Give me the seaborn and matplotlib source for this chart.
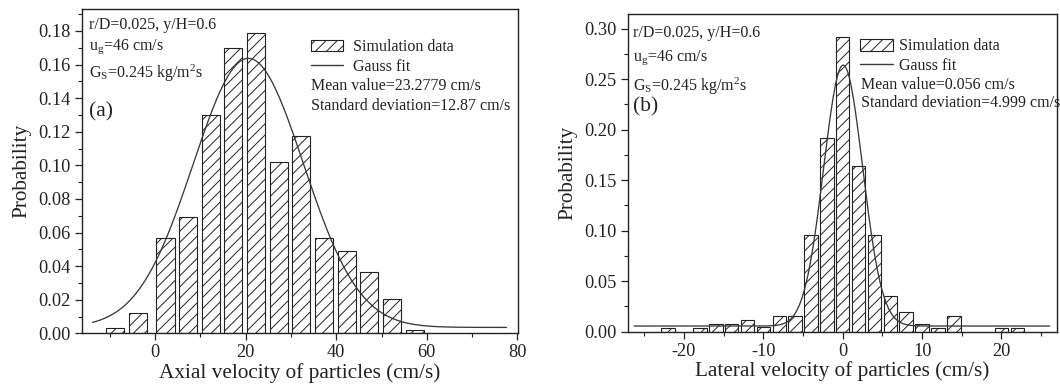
import numpy as np
import pandas as pd
import matplotlib
matplotlib.use("Agg")
import matplotlib.pyplot as plt
import seaborn as sns
from matplotlib.patches import Patch
from matplotlib.lines import Line2D
from matplotlib.ticker import MultipleLocator, FormatStrFormatter

# ---------------- data ----------------
axial_centers = [-8.8, -3.7, 2.3, 7.3, 12.3, 17.3, 22.3, 27.3, 32.3, 37.3, 42.3, 47.3, 52.3, 57.3]
axial_prob = [0.0034, 0.0122, 0.057, 0.069, 0.130, 0.170, 0.1786, 0.1018, 0.1177,
              0.057, 0.049, 0.0366, 0.0204, 0.0022]

lateral_centers = [-22, -18, -16, -14, -12, -10, -8, -6, -4, -2, 0, 2, 4, 6, 8, 10, 12, 14, 20, 22]
lateral_prob = [0.0036, 0.0036, 0.0076, 0.0076, 0.0119, 0.0050, 0.0158, 0.0158, 0.0957, 0.192,
                0.2914, 0.164, 0.0957, 0.0356, 0.0198, 0.0076, 0.0036, 0.0158, 0.0036, 0.0036]

# Gauss fit parameters (offset, amplitude, centre, sigma, x-range of the drawn fit)
axial_fit_y0, axial_fit_A, axial_fit_xc, axial_fit_sigma = 0.0035, 0.1602, 20.6, 12.2
axial_fit_range = (-13.8, 77.6)
lateral_fit_y0, lateral_fit_A, lateral_fit_xc, lateral_fit_sigma = 0.0056, 0.2584, 0.056, 2.46
lateral_fit_range = (-26.3, 26.1)

cond_lines = ["r/D=0.025, y/H=0.6",
              r"u$_\mathregular{g}$=46 cm/s",
              r"G$_\mathregular{S}$=0.245 kg/m$^\mathregular{2}$s"]
axial_stats = ["Mean value=23.2779 cm/s", "Standard deviation=12.87 cm/s"]
lateral_stats = ["Mean value=0.056 cm/s", "Standard deviation=4.999 cm/s"]
legend_labels = ["Simulation data", "Gauss fit"]

# ---------------- style ----------------
sns.set_style("ticks")
plt.rcParams["font.family"] = ["Liberation Serif", "DejaVu Serif"]
plt.rcParams["mathtext.fontset"] = "custom"
plt.rcParams["mathtext.rm"] = "Liberation Serif"
plt.rcParams["mathtext.it"] = "Liberation Serif:italic"
plt.rcParams["hatch.linewidth"] = 0.7
plt.rcParams["hatch.color"] = "#222222"

INK = "#222222"
W, H = 1060, 389
fig = plt.figure(figsize=(W / 100, H / 100), dpi=100)

def fx(px):
    return px / W

def fy(py):
    return 1 - py / H

ax_a = fig.add_axes([fx(81.7), fy(333.3), fx(518.3 - 81.7), (333.3 - 9.3) / H])
ax_b = fig.add_axes([fx(627.7), fy(331.7), fx(1057 - 627.7), (331.7 - 14) / H])


def gauss(x, y0, A, xc, s):
    return y0 + A * np.exp(-(x - xc) ** 2 / (2 * s ** 2))


def panel(ax, centers, probs, width, fit, frange, xlim, ylim, xmaj, xmin_, ymaj, ymin_, xlabel):
    df = pd.DataFrame({"v": centers, "p": probs})
    sns.barplot(data=df, x="v", y="p", native_scale=True, width=width, color="white",
                edgecolor=INK, linewidth=0.8, hatch="///", errorbar=None, ax=ax)
    xs = np.linspace(frange[0], frange[1], 400)
    fdf = pd.DataFrame({"x": xs, "y": gauss(xs, *fit)})
    sns.lineplot(data=fdf, x="x", y="y", color="#3a3a3a", linewidth=0.95, ax=ax)
    ax.set_xlim(*xlim)
    ax.set_ylim(*ylim)
    ax.xaxis.set_major_locator(MultipleLocator(xmaj))
    ax.xaxis.set_minor_locator(MultipleLocator(xmin_))
    ax.yaxis.set_major_locator(MultipleLocator(ymaj))
    ax.yaxis.set_minor_locator(MultipleLocator(ymin_))
    ax.yaxis.set_major_formatter(FormatStrFormatter("%.2f"))
    ax.xaxis.set_major_formatter(FormatStrFormatter("%d"))
    ax.tick_params(which="major", direction="out", length=5, width=0.9, colors=INK,
                   labelsize=13.2, top=False, right=False, pad=3)
    ax.tick_params(which="minor", direction="out", length=3, width=0.8, colors=INK,
                   top=False, right=False)
    for sp in ax.spines.values():
        sp.set_visible(True)
        sp.set_linewidth(1.0)
        sp.set_color(INK)
    ax.set_xlabel(xlabel, fontsize=15.3, color=INK, labelpad=1)
    ax.set_ylabel("Probability", fontsize=15.3, color=INK, labelpad=5)
    ax.grid(False)


panel(ax_a, axial_centers, axial_prob, 0.8,
      (axial_fit_y0, axial_fit_A, axial_fit_xc, axial_fit_sigma), axial_fit_range,
      (-16.2, 80.2), (0, 0.1929), 20, 10, 0.02, 0.01,
      "Axial velocity of particles (cm/s)")
panel(ax_b, lateral_centers, lateral_prob, 0.85,
      (lateral_fit_y0, lateral_fit_A, lateral_fit_xc, lateral_fit_sigma), lateral_fit_range,
      (-27.1, 27.0), (0, 0.3146), 10, 5, 0.05, 0.025,
      "Lateral velocity of particles (cm/s)")

# ---------------- annotations ----------------
ann_fs = 11.5
for x0, ys, tag, ytag in [(89, (25, 47, 73), "(a)", 112), (633, (33, 58, 86), "(b)", 107)]:
    for t, yy in zip(cond_lines, ys):
        fig.text(fx(x0), fy(yy), t, fontsize=ann_fs, color=INK, ha="left", va="center")
    fig.text(fx(x0), fy(ytag), tag, fontsize=15.5, color=INK, ha="left", va="center")

handles = [Patch(facecolor="white", edgecolor=INK, hatch="///", linewidth=0.8),
           Line2D([0], [0], color="#3a3a3a", linewidth=1.0)]

for ax, lx, ly, pad, lsp, stats, sx, sys_ in [
        (ax_a, 310.7, 39.0, 0.6, 0.26, axial_stats, 310.7, (86, 106)),
        (ax_b, 860.0, 38.5, 0.42, 0.22, lateral_stats, 861.0, (85, 103))]:
    leg = fig.legend(handles, legend_labels, loc="upper left",
                     bbox_to_anchor=(fx(lx), fy(ly)), frameon=False, fontsize=ann_fs,
                     handlelength=2.05, handleheight=0.75, handletextpad=pad,
                     labelspacing=lsp, borderpad=0, borderaxespad=0)
    for t in leg.get_texts():
        t.set_color(INK)
    for t, yy in zip(stats, sys_):
        fig.text(fx(sx), fy(yy), t, fontsize=ann_fs, color=INK, ha="left", va="center")

fig.savefig("out.png", dpi=100)
